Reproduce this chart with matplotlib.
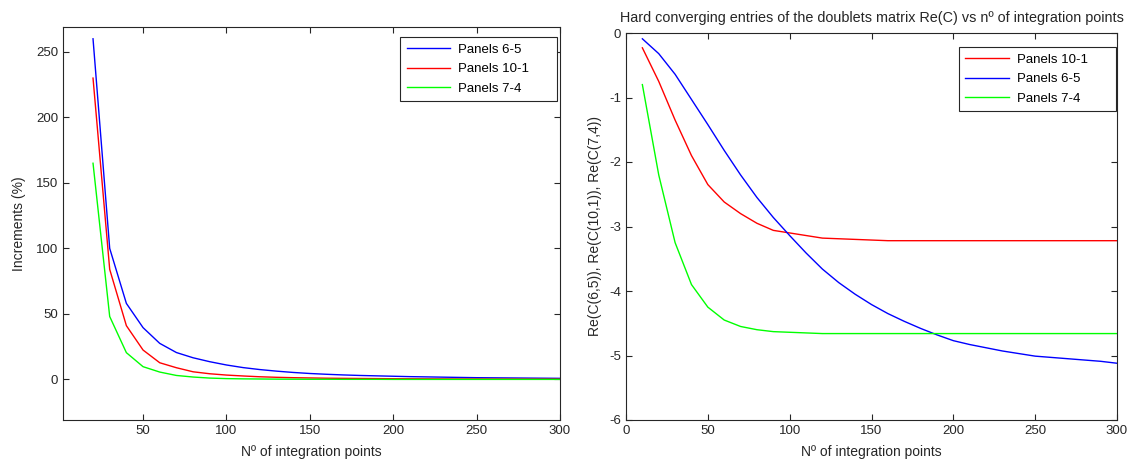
import matplotlib.pyplot as plt

plt.rcParams['font.family'] = ['Liberation Sans', 'DejaVu Sans']
plt.rcParams['font.size'] = 9
plt.rcParams['axes.unicode_minus'] = False

# left panel: increments (%) vs number of integration points
n_left = [20, 30, 40, 50, 60, 70, 80, 90, 100, 110, 120, 130, 140, 150, 160,
          170, 180, 190, 200, 210, 220, 230, 240, 250, 260, 270, 280, 290, 300]
inc_65 = [260, 100, 58, 39.5, 27.5, 20.5, 16.5, 13.5, 11, 9, 7.5, 6.3, 5.3, 4.5, 3.9,
          3.4, 3.0, 2.7, 2.4, 2.1, 1.9, 1.7, 1.5, 1.3, 1.2, 1.1, 1.0, 0.9, 0.8]
inc_101 = [230, 84, 41, 22.4, 12.7, 8.9, 5.8, 4.3, 3.3, 2.6, 2.0, 1.6, 1.3, 1.1, 0.9,
           0.8, 0.7, 0.6, 0.5, 0.45, 0.4, 0.35, 0.3, 0.3, 0.25, 0.25, 0.2, 0.2, 0.2]
inc_74 = [165, 48, 20.4, 9.7, 5.6, 3.0, 1.8, 1.0, 0.6, 0.4, 0.3, 0.2, 0.15, 0.1, 0.1,
          0.05, 0.05, 0.05, 0, 0, 0, 0, 0, 0, 0, 0, 0, 0, 0]

# right panel: Re(C) entries vs number of integration points
n_right = [10, 20, 30, 40, 50, 60, 70, 80, 90, 100, 110, 120, 130, 140, 150,
           160, 170, 180, 190, 200, 210, 220, 230, 240, 250, 260, 270, 280, 290, 300]
re_101 = [-0.23, -0.75, -1.35, -1.9, -2.35, -2.62, -2.8, -2.95, -3.06, -3.1, -3.14, -3.18, -3.19, -3.2, -3.21,
          -3.22, -3.22, -3.22, -3.22, -3.22, -3.22, -3.22, -3.22, -3.22, -3.22, -3.22, -3.22, -3.22, -3.22, -3.22]
re_65 = [-0.09, -0.32, -0.64, -1.03, -1.42, -1.82, -2.2, -2.55, -2.86, -3.14, -3.41, -3.66, -3.87, -4.05, -4.21,
         -4.35, -4.47, -4.58, -4.68, -4.77, -4.83, -4.88, -4.93, -4.97, -5.01, -5.03, -5.05, -5.07, -5.09, -5.12]
re_74 = [-0.8, -2.2, -3.25, -3.9, -4.25, -4.45, -4.55, -4.6, -4.63, -4.64, -4.65, -4.66, -4.66, -4.66, -4.66,
         -4.66, -4.66, -4.66, -4.66, -4.66, -4.66, -4.66, -4.66, -4.66, -4.66, -4.66, -4.66, -4.66, -4.66, -4.66]

W, H = 1132, 463
fig = plt.figure(figsize=(W / 100, H / 100), dpi=100)

def make_axes(l, r, t, b):
    # axes rectangle from pixel edges
    return fig.add_axes([l / W, 1 - b / H, (r - l) / W, (b - t) / H])

def matlab_style(ax):
    for s in ax.spines.values():
        s.set_color('#262626')
        s.set_linewidth(0.8)
    ax.tick_params(direction='in', top=True, right=True, length=4,
                   width=0.8, color='#262626', labelcolor='#262626', labelsize=9.5)

def matlab_legend(ax, x0, x1, top):
    # fixed-width box like the MATLAB legend, text left aligned
    leg = ax.legend(loc='upper left', bbox_to_anchor=(x0, top - 0.4, x1 - x0, 0.4),
                    mode='expand', borderaxespad=0, fancybox=False,
                    edgecolor='#262626', framealpha=1, fontsize=9.5,
                    handlelength=3.3, handletextpad=0.6, labelspacing=0.55,
                    borderpad=0.5)
    leg.get_frame().set_linewidth(0.8)
    return leg

# ---- left axes
ax1 = make_axes(63, 560, 27, 420)
ax1.plot(n_left, inc_65, color='blue', lw=1.0, label='Panels 6-5')
ax1.plot(n_left, inc_101, color='red', lw=1.0, label='Panels 10-1')
ax1.plot(n_left, inc_74, color='#00ff00', lw=1.0, label='Panels 7-4')
ax1.set_xlim(2, 300)
ax1.set_ylim(-31, 269)
ax1.set_xticks([50, 100, 150, 200, 250, 300])
ax1.set_yticks([0, 50, 100, 150, 200, 250])
ax1.set_xlabel('Nº of integration points', color='#262626', fontsize=10, labelpad=6)
ax1.set_ylabel('Increments (%)', color='#262626', fontsize=10, labelpad=7)
matlab_style(ax1)
matlab_legend(ax1, 0.678, 0.994, 0.975)

# ---- right axes
ax2 = make_axes(626, 1117, 33, 420)
ax2.plot(n_right, re_101, color='red', lw=1.0, label='Panels 10-1')
ax2.plot(n_right, re_65, color='blue', lw=1.0, label='Panels 6-5')
ax2.plot(n_right, re_74, color='#00ff00', lw=1.0, label='Panels 7-4')
ax2.set_xlim(0, 300)
ax2.set_ylim(-6, 0)
ax2.set_xticks([0, 50, 100, 150, 200, 250, 300])
ax2.set_yticks([-6, -5, -4, -3, -2, -1, 0])
ax2.set_xlabel('Nº of integration points', color='#262626', fontsize=10, labelpad=6)
ax2.set_ylabel('Re(C(6,5)), Re(C(10,1)), Re(C(7,4))', color='#262626', fontsize=10, labelpad=5)
ax2.set_title('Hard converging entries of the doublets matrix Re(C) vs nº of integration points',
              fontsize=10.4, color='#262626', pad=8)
matlab_style(ax2)
matlab_legend(ax2, 0.678, 0.998, 0.964)

fig.savefig('out.png', dpi=100)
